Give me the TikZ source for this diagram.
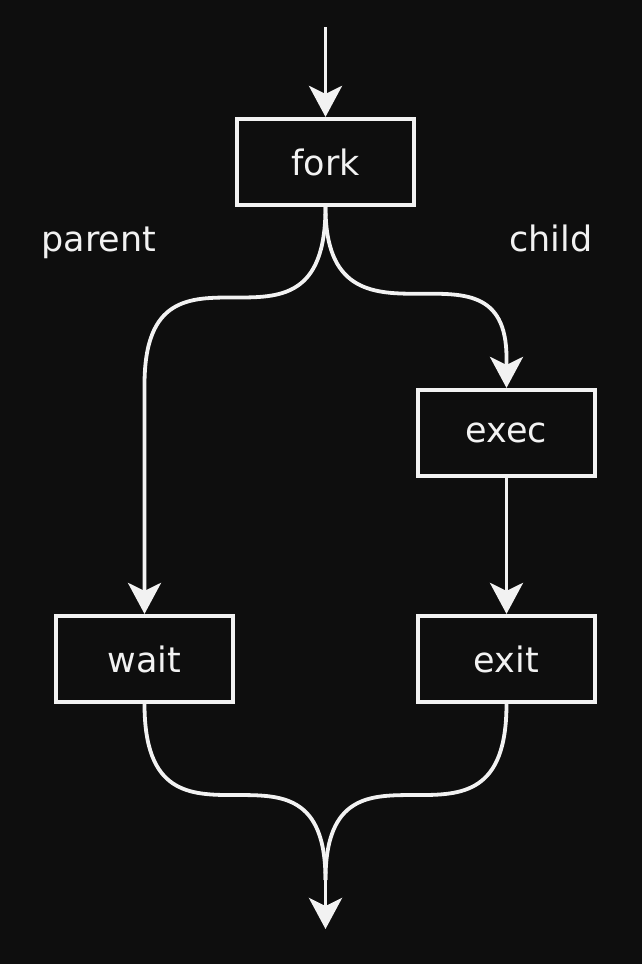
\documentclass[tikz,border=0pt]{standalone}
\usepackage{fontspec}
\setmainfont{DejaVu Sans}
\usetikzlibrary{arrows.meta,calc}
\definecolor{bg}{RGB}{14,14,14}
\definecolor{fg}{RGB}{242,242,242}
\begin{document}
\begin{tikzpicture}[x=1pt,y=-1pt,
  box/.style={draw=fg,line width=4.2pt,minimum width=176.5pt,minimum height=86pt,inner sep=0pt,text=fg,font=\fontsize{35}{42}\selectfont},
  lbl/.style={text=fg,font=\fontsize{35}{42}\selectfont,anchor=base,inner sep=0pt},
  conn/.style={draw=fg,line width=3.8pt,-{Stealth[length=31pt,width=33pt,inset=8pt]}},
  plain/.style={draw=fg,line width=3.8pt}]
\fill[bg] (0,0) rectangle (642,964);
\useasboundingbox (0,0) rectangle (642,964);
\node[box] (fork) at (325.5,162) {fork};
\node[box] (exec) at (506.5,433) {exec};
\node[box] (wait) at (144.5,659) {wait};
\node[box] (exit) at (506.5,659) {exit};
\node[lbl] (parent) at (99,251) {parent};
\node[lbl] (child) at (551,251) {child};
\coordinate (start) at (325.5,27);
\coordinate (join) at (325.5,880);
\coordinate (end) at (325.5,929);
\draw[conn] (start) -- (fork.north);
\draw[conn] (fork.south) .. controls +(0,180) and +(0,-176) .. ($(wait.north)+(0,-229)$) -- (wait.north);
\draw[conn] (fork.south) .. controls +(0,166) and +(0,-136) .. ($(exec.north)+(0,-30)$) -- (exec.north);
\draw[conn] (exec.south) -- (exit.north);
\draw[plain] (wait.south) .. controls +(0,180) and +(0,-172) .. (join);
\draw[plain] (exit.south) .. controls +(0,180) and +(0,-172) .. (join);
\draw[conn] (join) -- (end);
\end{tikzpicture}
\end{document}
